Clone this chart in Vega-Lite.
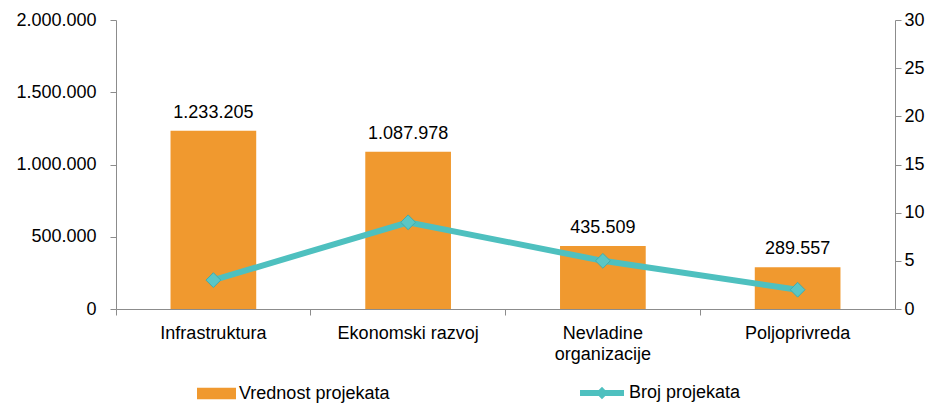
{
  "$schema": "https://vega.github.io/schema/vega-lite/v6.json",
  "width": 779,
  "height": 289,
  "autosize": {"type": "none"},
  "padding": {"left": 116, "top": 20, "right": 43, "bottom": 94},
  "config": {
    "locale": {"number": {"decimal": ",", "thousands": ".", "grouping": [3], "currency": ["", " €"]}},
    "view": {"stroke": null},
    "font": "Liberation Sans",
    "axis": {
      "domainColor": "#8c8c8c",
      "tickColor": "#8c8c8c",
      "tickSize": 6,
      "labelFontSize": 18,
      "labelColor": "#000000",
      "labelFont": "Liberation Sans",
      "grid": false,
      "title": null
    },
    "legend": {"labelFont": "Liberation Sans", "labelFontSize": 18, "labelColor": "#000000"}
  },
  "data": {
    "values": [
      {"kategorija": "Infrastruktura", "vrednost": 1233205, "broj": 3},
      {"kategorija": "Ekonomski razvoj", "vrednost": 1087978, "broj": 9},
      {"kategorija": "Nevladine organizacije", "vrednost": 435509, "broj": 5},
      {"kategorija": "Poljoprivreda", "vrednost": 289557, "broj": 2}
    ]
  },
  "encoding": {
    "x": {
      "field": "kategorija",
      "type": "nominal",
      "sort": null,
      "scale": {"paddingInner": 0, "paddingOuter": 0},
      "axis": {
        "bandPosition": 0,
        "labelAngle": 0,
        "labelPadding": 9,
        "labelLineHeight": 21,
        "labelExpr": "datum.label == 'Nevladine organizacije' ? ['Nevladine', 'organizacije'] : datum.label"
      }
    }
  },
  "layer": [
    {
      "encoding": {
        "y": {
          "field": "vrednost",
          "type": "quantitative",
          "scale": {"domain": [0, 2000000]},
          "axis": {"orient": "left", "values": [0, 500000, 1000000, 1500000, 2000000], "format": ",d", "labelPadding": 14}
        }
      },
      "layer": [
        {
          "mark": {"type": "bar", "width": {"band": 0.44}},
          "encoding": {
            "fill": {
              "datum": "Vrednost projekata",
              "scale": {"range": ["#F0992F"]},
              "legend": {
                "orient": "none",
                "legendX": 81,
                "legendY": 354,
                "title": null,
                "padding": 0,
                "symbolType": "M-1,-0.3H1V0.3H-1Z",
                "symbolSize": 1521,
                "symbolStrokeWidth": 0,
                "labelOffset": 3
              }
            }
          }
        },
        {
          "mark": {"type": "text", "baseline": "alphabetic", "dy": -13, "fontSize": 18, "color": "#000000"},
          "encoding": {"text": {"field": "vrednost", "type": "quantitative", "format": ",d"}}
        }
      ]
    },
    {
      "encoding": {
        "y": {
          "field": "broj",
          "type": "quantitative",
          "scale": {"domain": [0, 30]},
          "axis": {"orient": "right", "values": [0, 5, 10, 15, 20, 25, 30], "labelPadding": 3}
        }
      },
      "layer": [
        {
          "mark": {"type": "line", "strokeWidth": 6},
          "encoding": {
            "stroke": {
              "datum": "Broj projekata",
              "scale": {"range": ["#4EC0BF"]},
              "legend": {
                "orient": "none",
                "legendX": 461,
                "legendY": 348,
                "title": null,
                "padding": 0,
                "symbolType": "M-1,0H1M0,-0.09L0.09,0L0,0.09L-0.09,0Z",
                "symbolSize": 1936,
                "symbolStrokeWidth": 6,
                "labelOffset": 2
              }
            }
          }
        },
        {
          "mark": {"type": "point", "shape": "diamond", "filled": true, "size": 220, "fill": "#5BC6C5", "stroke": "#45acab", "strokeWidth": 1, "opacity": 1}
        }
      ]
    }
  ],
  "resolve": {"scale": {"y": "independent"}}
}
